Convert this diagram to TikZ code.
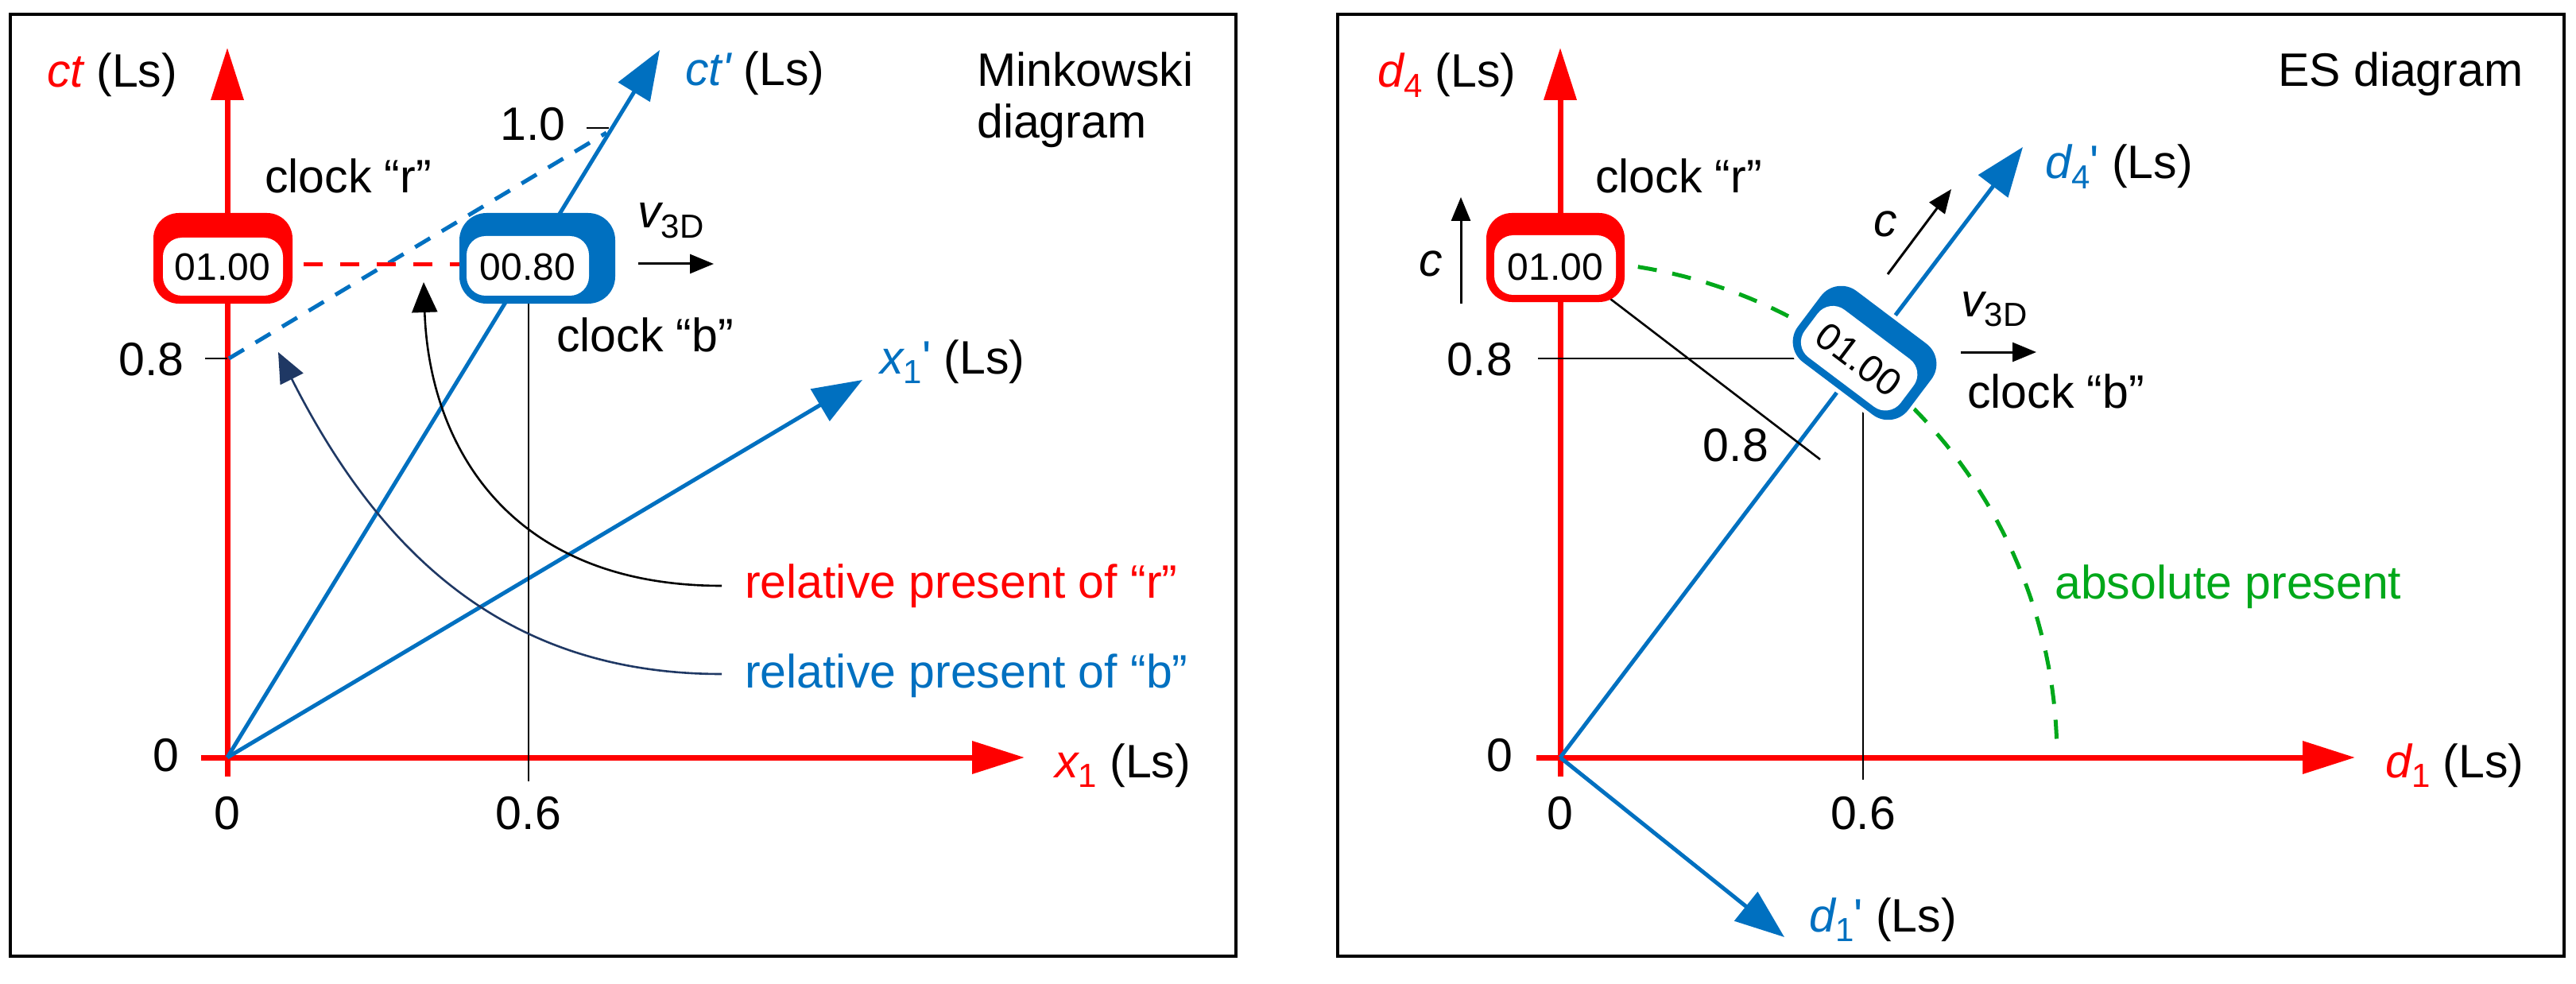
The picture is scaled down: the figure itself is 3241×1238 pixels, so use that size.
\documentclass[tikz,border=0pt]{standalone}
\usepackage{fontspec}
\setmainfont{Liberation Sans}
\usetikzlibrary{arrows.meta}
\definecolor{cred}{HTML}{FF0000}
\definecolor{cblue}{HTML}{0070C0}
\definecolor{cgreen}{HTML}{00A81A}
\definecolor{cnavy}{HTML}{1F3864}
\newcommand\mysub[1]{\raisebox{-0.22em}{\fontsize{42}{42}\selectfont #1}}
\begin{document}
\begin{tikzpicture}[x=1pt,y=-1pt,
  lab/.style={inner sep=0pt,font=\fontsize{59}{68}\selectfont},
  clk/.style={inner sep=0pt,font=\fontsize{48}{50}\selectfont},
  frame/.style={line width=4pt},
  raxis/.style={cred,line width=7pt,-{Triangle[length=66pt,width=40pt]}},
  baxis/.style={cblue,line width=5pt,-{Triangle[length=62pt,width=46pt]}},
  thin/.style={line width=2.6pt},
  sarrow/.style={line width=3pt,-{Triangle[length=30pt,width=24pt]}},
  curv/.style={line width=2.6pt,-{Triangle[length=38pt,width=32pt]}},
  dsh/.style={line width=5pt,dash pattern=on 24pt off 20pt}]
\useasboundingbox (0,0) rectangle (3241,1238);
\draw[frame] (13,18) rectangle (1555,1203);
\draw[frame] (1683,18) rectangle (3226,1203);
% ============ Minkowski ============
\coordinate (O) at (286,953);
\coordinate (Oy) at (286,977);
\coordinate (Ox) at (253,953);
\coordinate (ty) at (286,60);
\coordinate (tx) at (1289,953);
\coordinate (tct) at (830,63);
\coordinate (tx1) at (1085,478);
\draw[raxis] (Oy) -- (ty);
\draw[raxis] (Ox) -- (tx);
\draw[baxis] (O) -- (tct);
\draw[baxis] (O) -- (tx1);
\coordinate (t8a) at (258,451); \coordinate (t8b) at (286,451);
\draw[thin] (t8a) -- (t8b);
\coordinate (t10a) at (738,161); \coordinate (t10b) at (766,161);
\draw[thin] (t10a) -- (t10b);
\coordinate (v6a) at (665,380); \coordinate (v6b) at (665,983);
\draw[thin] (v6a) -- (v6b);
\coordinate (bd1) at (288,451); \coordinate (bd2) at (763,167);
\draw[dsh,cblue,dash pattern=on 22pt off 17pt] (bd1) -- (bd2);
\fill[cred,rounded corners=32pt] (193,268) rectangle (368,382);
\fill[white,rounded corners=24pt] (205,299) rectangle (356,372);
\node[clk] (clkr) at (280,336) {01.00};
\fill[cblue,rounded corners=34pt] (578,268) rectangle (774,382);
\fill[white,rounded corners=24pt] (587,297) rectangle (741,372);
\node[clk] (clkb) at (664,336) {00.80};
\coordinate (rd1) at (368,333); \coordinate (rd2) at (578,333);
\draw[dsh,cred,dash pattern=on 24pt off 22pt,dash phase=-14pt] (rd1) -- (rd2);
\coordinate (cr1) at (908,737); \coordinate (cr2) at (533,355);
\draw[curv] (cr1) .. controls (640,737) and (540,560) .. (cr2);
\coordinate (cb1) at (908,848); \coordinate (cb2) at (350,443);
\draw[curv,cnavy] (cb1) .. controls (640,848) and (480,700) .. (cb2);
\coordinate (va1) at (803,332); \coordinate (va2) at (898,332);
\draw[sarrow] (va1) -- (va2);
\node[lab,anchor=base west] (lct) at (59,110) {\textcolor{cred}{\itshape ct} (Ls)};
\node[lab,anchor=base west] (lclr) at (333,243) {clock “r”};
\node[lab,anchor=base east] (l08) at (232,472) {0.8};
\node[lab,anchor=base east] (l0a) at (226,970) {0};
\node[lab,anchor=base] (l0b) at (286,1043) {0};
\node[lab,anchor=base] (l06) at (665,1043) {0.6};
\node[lab,anchor=base east] (l10) at (712,177) {1.0};
\node[lab,anchor=base west] (lctp) at (862,108) {\textcolor{cblue}{\itshape ct\textquotesingle} (Ls)};
\node[lab,anchor=base west] (lv) at (802,287) {\itshape v\mysub{\upshape 3D}};
\node[lab,anchor=base west] (lclb) at (700,442) {clock “b”};
\node[lab,anchor=base west] (lmk1) at (1229,109) {Minkowski};
\node[lab,anchor=base west] (lmk2) at (1229,174) {diagram};
\node[lab,anchor=base west] (lx1p) at (1107,470) {\textcolor{cblue}{\itshape x\mysub{\upshape 1}\upshape\textquotesingle} (Ls)};
\node[lab,anchor=base west,text=cred] (lrr) at (937,752) {relative present of “r”};
\node[lab,anchor=base west,text=cblue] (lrb) at (937,865) {relative present of “b”};
\node[lab,anchor=base west] (lx1) at (1327,978) {\textcolor{cred}{\itshape x\mysub{\upshape 1}} (Ls)};
% ============ ES ============
\coordinate (P) at (1963,953);
\coordinate (Py) at (1963,977);
\coordinate (Px) at (1933,953);
\coordinate (td4) at (1963,60);
\coordinate (td1) at (2963,953);
\coordinate (td4p) at (2545,185);
\coordinate (td1p) at (2245,1179);
\draw[raxis] (Py) -- (td4);
\draw[raxis] (Px) -- (td1);
\draw[cgreen,dsh,dash pattern=on 24pt off 20pt] plot[domain=81:1.2,samples=60] ({1963+625*cos(\x)},{953-625*sin(\x)});
\draw[baxis] (P) -- (td4p);
\draw[baxis] (P) -- (td1p);
\coordinate (h8a) at (1935,451); \coordinate (h8b) at (2290,451);
\draw[thin] (h8a) -- (h8b);
\coordinate (pp1) at (2026,376); \coordinate (pp2) at (2290,578);
\draw[thin] (pp1) -- (pp2);
\coordinate (w6a) at (2344,480); \coordinate (w6b) at (2344,981);
\draw[thin] (w6a) -- (w6b);
\fill[cred,rounded corners=32pt] (1870,268) rectangle (2044,380);
\fill[white,rounded corners=24pt] (1880,296) rectangle (2033,371);
\node[clk] (clkr2) at (1957,336) {01.00};
\begin{scope}[shift={(2346,444)},rotate=-37]
\draw[white,line width=10pt,rounded corners=32pt] (-87,-56) rectangle (87,56);
\fill[cblue,rounded corners=32pt] (-87,-56) rectangle (87,56);
\fill[white,rounded corners=24pt] (-77,-28) rectangle (74,47);
\node[clk,rotate=-37] (clkb2) at (-1,11) {01.00};
\end{scope}
\coordinate (cu1) at (1838,382); \coordinate (cu2) at (1838,248);
\draw[sarrow] (cu1) -- (cu2);
\coordinate (cd1) at (2375,345); \coordinate (cd2) at (2455,238);
\draw[sarrow] (cd1) -- (cd2);
\coordinate (wa1) at (2467,443); \coordinate (wa2) at (2562,443);
\draw[sarrow] (wa1) -- (wa2);
\node[lab,anchor=base west] (ld4) at (1733,110) {\textcolor{cred}{\itshape d\mysub{\upshape 4}} (Ls)};
\node[lab,anchor=base west] (lc1) at (1785,348) {\itshape c};
\node[lab,anchor=base west] (lclr2) at (2007,243) {clock “r”};
\node[lab,anchor=base east] (l08b) at (1903,472) {0.8};
\node[lab,anchor=base east] (l08c) at (2225,580) {0.8};
\node[lab,anchor=base west] (lc2) at (2357,298) {\itshape c};
\node[lab,anchor=base west] (ld4p) at (2573,225) {\textcolor{cblue}{\itshape d\mysub{\upshape 4}\upshape\textquotesingle} (Ls)};
\node[lab,anchor=base west] (lv2) at (2467,398) {\itshape v\mysub{\upshape 3D}};
\node[lab,anchor=base west] (lclb2) at (2475,513) {clock “b”};
\node[lab,anchor=base west] (les) at (2866,109) {ES diagram};
\node[lab,anchor=base west,text=cgreen] (labs) at (2585,753) {absolute present};
\node[lab,anchor=base east] (l0c) at (1903,970) {0};
\node[lab,anchor=base] (l0d) at (1963,1043) {0};
\node[lab,anchor=base] (l06b) at (2344,1043) {0.6};
\node[lab,anchor=base west] (ld1) at (3001,978) {\textcolor{cred}{\itshape d\mysub{\upshape 1}} (Ls)};
\node[lab,anchor=base west] (ld1p) at (2276,1172) {\textcolor{cblue}{\itshape d\mysub{\upshape 1}\upshape\textquotesingle} (Ls)};
\end{tikzpicture}
\end{document}
